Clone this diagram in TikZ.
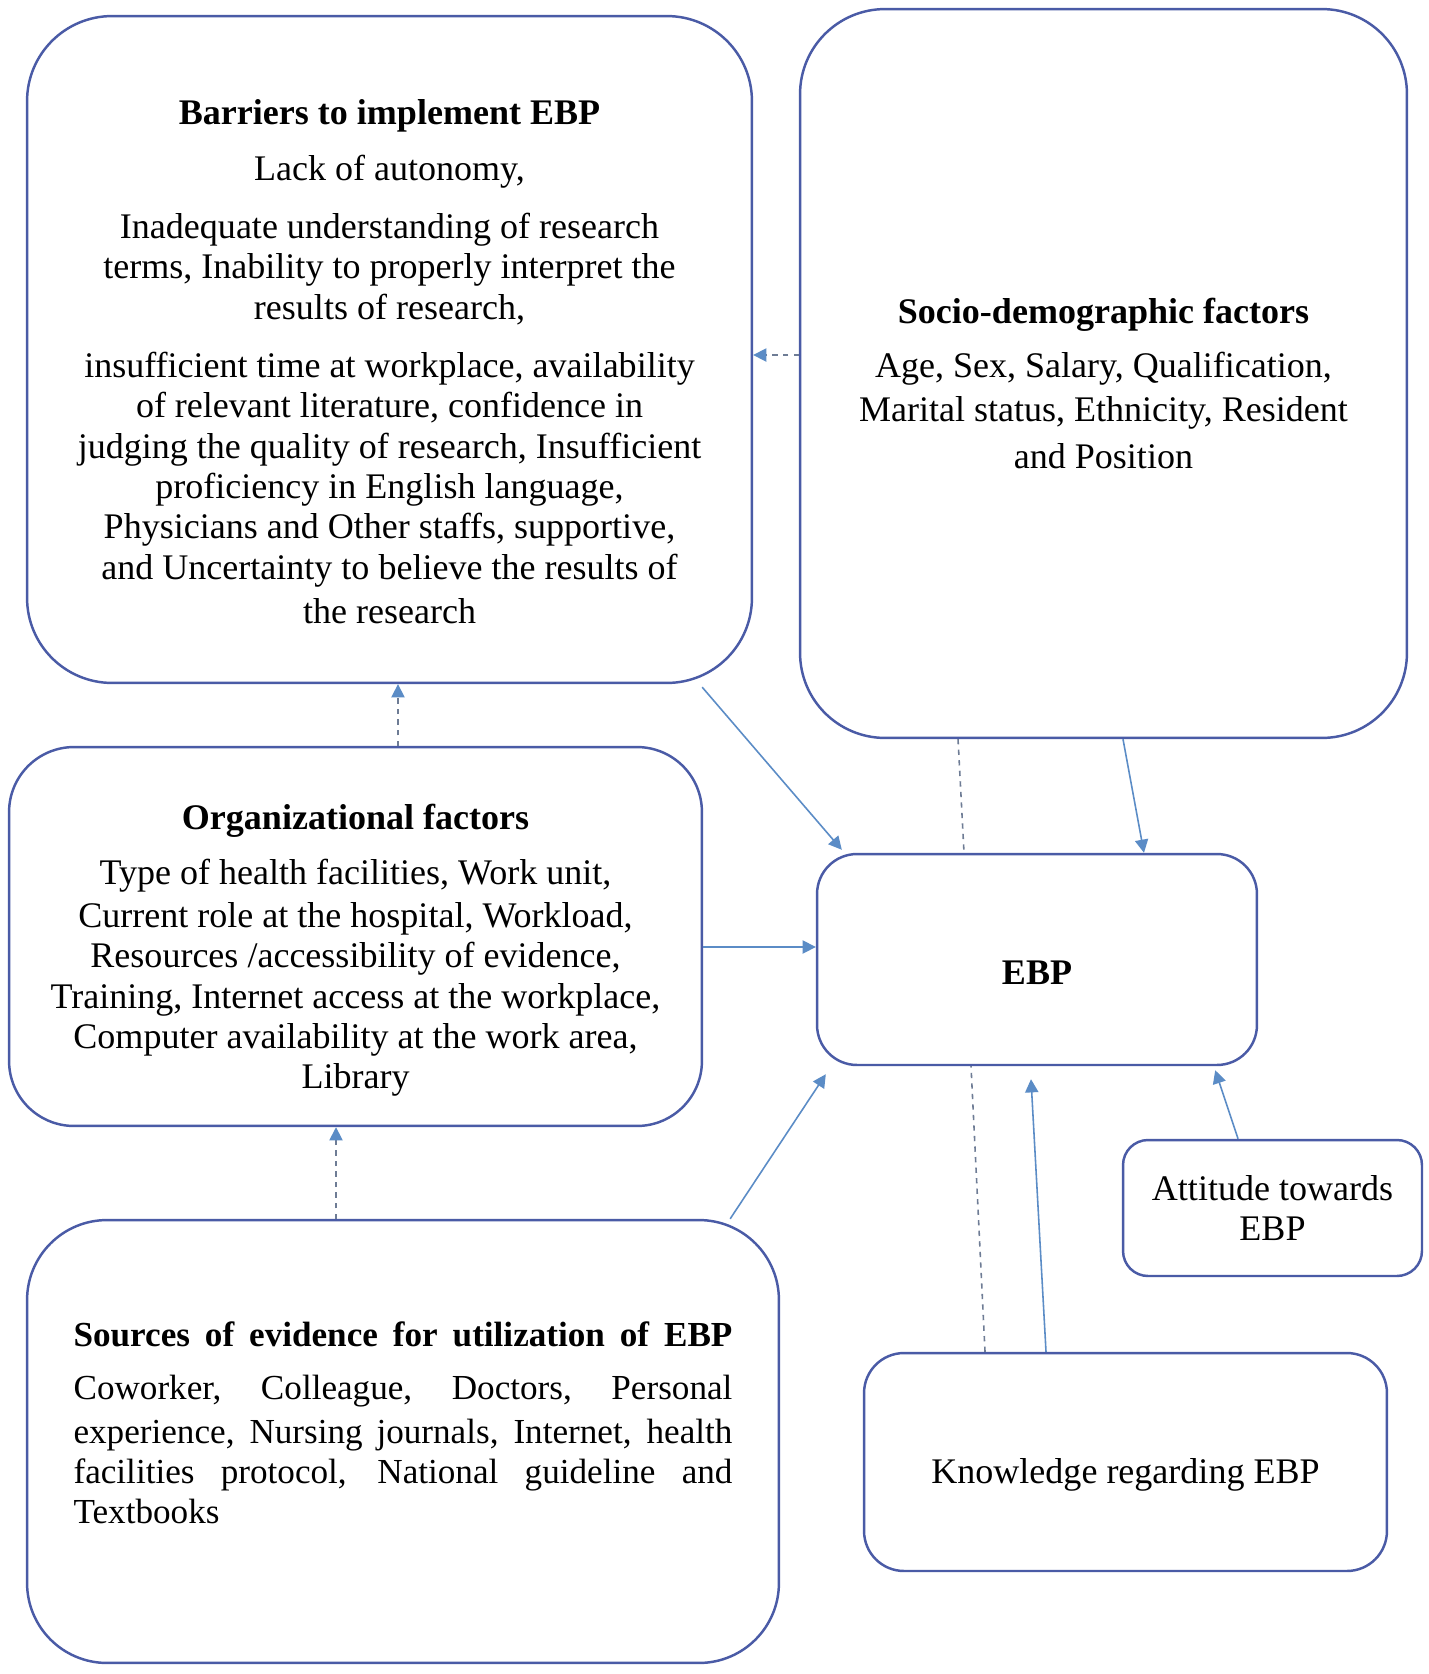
\documentclass[tikz,border=0pt]{standalone}
\usepackage{fontspec}
\setmainfont{Liberation Serif}
\usetikzlibrary{arrows.meta, positioning, calc}
\definecolor{boxBlue}{HTML}{4A5BA6}
\definecolor{arrBlue}{HTML}{5B8CC6}
\definecolor{dashGray}{HTML}{6E7C95}

\begin{document}
\begin{tikzpicture}[
  x=0.02cm, y=-0.02cm,
  factor/.style={
    rectangle, rounded corners=#1, draw=boxBlue, fill=white,
    line width=1.4pt, inner sep=0pt,
  },
  factor/.default=0.8cm,
  facttext/.style={
    inner sep=0pt, align=center,
    font=\fontsize{20.5}{23}\selectfont,
  },
  arrow/.style={-{Triangle[length=7.5pt, width=7.5pt, color=arrBlue]}, line width=0.9pt, color=arrBlue},
  dasharrow/.style={arrow, dashed, color=dashGray},
  dashline/.style={line width=0.9pt, dashed, color=dashGray},
]

\fill[white] (0,0) rectangle (1429,1674);
\useasboundingbox (0,0) rectangle (1429,1674);

% Factor boxes
\node[factor=1.7cm, minimum width=14.5cm, minimum height=13.34cm] (barriers) at (389.5,349.5) {};
\node[factor=1.7cm, minimum width=12.14cm, minimum height=14.58cm] (socio) at (1103.5,373.5) {};
\node[factor=1.3cm, minimum width=13.86cm, minimum height=7.58cm] (org) at (355.5,936.5) {};
\node[factor=0.8cm, minimum width=8.8cm, minimum height=4.22cm] (ebp) at (1037,959.5) {};
\node[factor=0.5cm, minimum width=5.98cm, minimum height=2.72cm] (attitude) at (1272.5,1208) {};
\node[factor=1.6cm, minimum width=15.04cm, minimum height=8.86cm] (sources) at (403,1441.5) {};
\node[factor=0.8cm, minimum width=10.46cm, minimum height=4.36cm] (knowledge) at (1125.5,1462) {};

% Texts
\node[facttext] (barrierstext) at ([yshift=-0.24cm]barriers.center)
  {\textbf{Barriers to implement EBP}\\[9pt]
   Lack of autonomy,\\[10pt]
   Inadequate understanding of research\\
   terms, Inability to properly interpret the\\
   results of research,\\[10pt]
   insufficient time at workplace, availability\\
   of relevant literature, confidence in\\
   judging the quality of research, Insufficient\\
   proficiency in English language,\\
   Physicians and Other staffs, supportive,\\
   and Uncertainty to believe the results of\\[2pt]
   the research};

\node[facttext] (sociotext) at ([yshift=-0.2cm]socio.center)
  {\textbf{Socio-demographic factors}\\[8pt]
   Age, Sex, Salary, Qualification,\\[2pt]
   Marital status, Ethnicity, Resident\\[4pt]
   and Position};

\node[facttext] (orgtext) at ([yshift=-0.28cm]org.center)
  {\textbf{Organizational factors}\\[8pt]
   Type of health facilities, Work unit,\\[1.5pt]
   Current role at the hospital, Workload,\\
   Resources /accessibility of evidence,\\
   Training, Internet access at the workplace,\\
   Computer availability at the work area,\\
   Library};

\node[facttext, font=\fontsize{20.5}{23}\selectfont\bfseries] (ebptext) at ([yshift=-0.26cm]ebp.center) {EBP};

\node[facttext] (attitudetext) at (attitude.center) {Attitude towards\\EBP};

\node[facttext, font=\fontsize{20}{23}\selectfont, align=left] (sourcestext) at ([yshift=0.37cm]sources.center)
  {\makebox[13.18cm][s]{\textbf{Sources of evidence for utilization of EBP}}\\[7pt]
   \makebox[13.18cm][s]{Coworker, Colleague, Doctors, Personal}\\[2pt]
   \makebox[13.18cm][s]{experience, Nursing journals, Internet, health}\\
   \makebox[13.18cm][s]{facilities protocol, National guideline and}\\
   \makebox[13.18cm][l]{Textbooks}};

\node[facttext] (knowledgetext) at ([yshift=-0.26cm]knowledge.center) {Knowledge regarding EBP};

% Connectors
\draw[dasharrow] ([yshift=0.37cm]socio.west) -- ([yshift=0.37cm]socio.west -| barriers.east);
\draw[arrow] ([xshift=-1.02cm, yshift=-0.06cm]barriers.south east) -- ([xshift=0.52cm, yshift=0.06cm]ebp.north west);
\draw[dashline] ([xshift=-2.91cm]socio.south) -- ([xshift=-1.46cm]ebp.north);
\draw[arrow] ([xshift=0.39cm]socio.south) -- ([xshift=2.14cm]ebp.north);
\draw[dasharrow] ([xshift=0.85cm]org.north) -- ([xshift=0.85cm]org.north |- barriers.south);
\draw[arrow] ([yshift=-0.21cm]org.east) -- ([yshift=-0.21cm]org.east -| ebp.west);
\draw[dasharrow] ([xshift=-1.34cm]sources.north) -- ([xshift=-1.34cm]sources.north |- org.south);
\draw[arrow] ([xshift=-1.0cm]sources.north east) -- ([xshift=0.2cm, yshift=-0.16cm]ebp.south west);
\draw[dashline] ([xshift=-2.81cm]knowledge.north) -- ([xshift=-1.32cm]ebp.south);
\draw[arrow] ([xshift=-1.59cm]knowledge.north) -- ([xshift=-0.12cm, yshift=-0.26cm]ebp.south);
\draw[arrow] ([xshift=-0.69cm]attitude.north) -- ([xshift=-0.86cm, yshift=-0.08cm]ebp.south east);

\end{tikzpicture}
\end{document}
